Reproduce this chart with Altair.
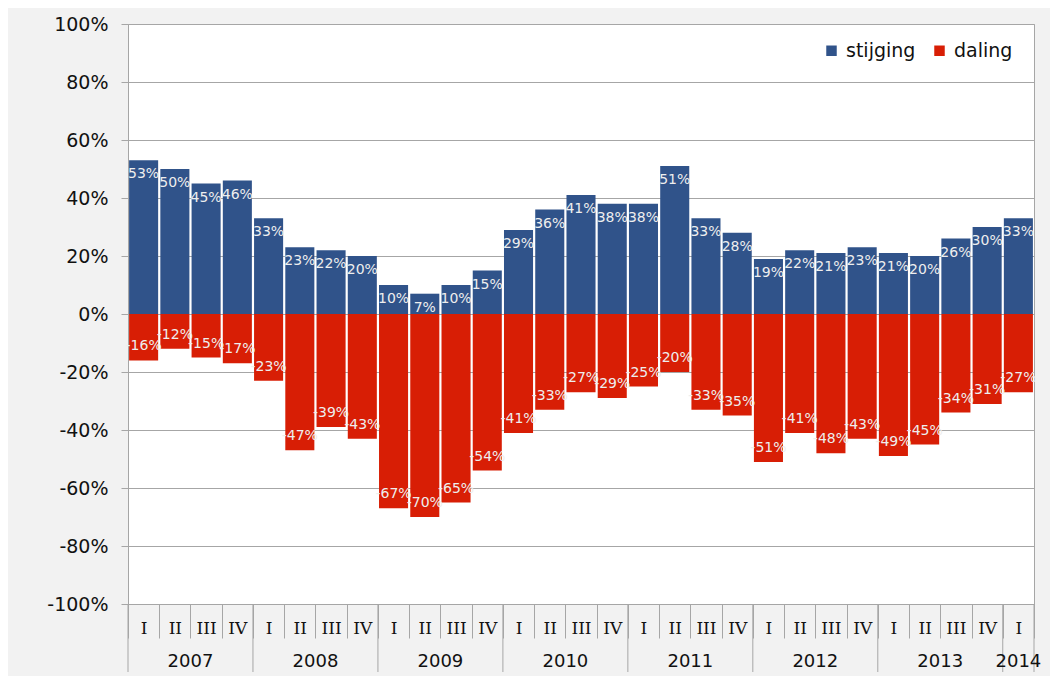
import altair as alt
import pandas as pd

years = [2007] * 4 + [2008] * 4 + [2009] * 4 + [2010] * 4 + [2011] * 4 + [2012] * 4 + [2013] * 4 + [2014]
quarters = ["I", "II", "III", "IV"] * 7 + ["I"]
stijging = [53, 50, 45, 46, 33, 23, 22, 20, 10, 7, 10, 15, 29, 36, 41, 38,
            38, 51, 33, 28, 19, 22, 21, 23, 21, 20, 26, 30, 33]
daling = [16, 12, 15, 17, 23, 47, 39, 43, 67, 70, 65, 54, 41, 33, 27, 29,
          25, 20, 33, 35, 51, 41, 48, 43, 49, 45, 34, 31, 27]
year_names = ["2007", "2008", "2009", "2010", "2011", "2012", "2013", "2014"]
series_names = ["stijging", "daling"]
y_ticks = [-100, -80, -60, -40, -20, 0, 20, 40, 60, 80, 100]

BLUE = "#30538a"
RED = "#d81e05"
GRAY = "#a6a6a6"

keys = [f"{y} {q}" for y, q in zip(years, quarters)]

rows = []
for k, s, d in zip(keys, stijging, daling):
    rows.append({"key": k, "series": "stijging", "value": s, "label": f"{s}%"})
    rows.append({"key": k, "series": "daling", "value": -d, "label": f"-{d}%"})
df = pd.DataFrame(rows)

# year separators: start of each year + end of last
sep_start = pd.DataFrame({"key": [f"{y} I" for y in year_names]})
sep_end = pd.DataFrame({"key": ["2014 I"]})
# year labels
full_years = pd.DataFrame({"key": [f"{y} II" for y in year_names[:-1]], "year": year_names[:-1]})
last_year = pd.DataFrame({"key": ["2014 I"], "year": ["2014"]})

xscale = alt.Scale(domain=keys, paddingInner=0, paddingOuter=0)
xaxis = alt.Axis(
    title=None, labelExpr="split(datum.value, ' ')[1]", labelAngle=0,
    tickBand="extent", tickSize=34, tickColor=GRAY, domainColor=GRAY,
    labelFont="DejaVu Serif", labelFontSize=17, labelColor="#111111",
    labelPadding=-10, labelBaseline="middle", grid=False,
)


def X(bp=None):
    kw = {}
    if bp is not None:
        kw["bandPosition"] = bp
    return alt.X("key:N", sort=keys, scale=xscale, axis=xaxis, **kw)


yscale = alt.Scale(domain=[-100, 100], nice=False, zero=True)
yaxis = alt.Axis(
    title=None, values=y_ticks, labelExpr="datum.value + '%'",
    tickSize=7, tickColor=GRAY, domainColor=GRAY, gridColor=GRAY,
    labelFont="DejaVu Sans", labelFontSize=19, labelColor="#111111",
    labelPadding=13,
)

bars = alt.Chart(df).mark_bar(width=alt.RelativeBandSize(0.93)).encode(
    x=X(),
    y=alt.Y("value:Q", scale=yscale, axis=yaxis),
    color=alt.Color(
        "series:N",
        scale=alt.Scale(domain=series_names, range=[BLUE, RED]),
        legend=alt.Legend(
            orient="none", legendX=694, legendY=17, direction="horizontal",
            title=None, symbolType="square", symbolSize=110, symbolStrokeWidth=0,
            labelFont="DejaVu Sans", labelFontSize=19, labelColor="#111111",
            labelOffset=5, columnPadding=14,
        ),
    ),
)

lab_style = dict(baseline="middle", align="center", font="DejaVu Sans", fontSize=14, color="#eeeeee")
txt_pos = alt.Chart(df).transform_filter(alt.datum.series == "stijging").mark_text(
    dy=14, **lab_style
).encode(x=X(), y=alt.Y("value:Q", scale=yscale), text="label:N")

txt_neg = alt.Chart(df).transform_filter(alt.datum.series == "daling").mark_text(
    dy=-14, **lab_style
).encode(x=X(), y=alt.Y("value:Q", scale=yscale), text="label:N")

sep1 = alt.Chart(sep_start).mark_rule(color=GRAY, strokeWidth=1).encode(
    x=X(0), y=alt.value(580), y2=alt.value(648)
)
sep2 = alt.Chart(sep_end).mark_rule(color=GRAY, strokeWidth=1).encode(
    x=X(1), y=alt.value(580), y2=alt.value(648)
)

ylab_style = dict(baseline="middle", align="center", font="DejaVu Sans", fontSize=18, color="#111111")
ylab1 = alt.Chart(full_years).mark_text(**ylab_style).encode(x=X(1), y=alt.value(638), text="year:N")
ylab2 = alt.Chart(last_year).mark_text(**ylab_style).encode(x=X(0.5), y=alt.value(638), text="year:N")

chart = alt.layer(bars, txt_pos, txt_neg, sep1, sep2, ylab1, ylab2).properties(
    width=906, height=580,
    autosize=alt.AutoSizeParams(type="none"),
    padding={"left": 120, "top": 16, "right": 16, "bottom": 72},
    background="#f2f2f2",
).configure_view(fill="white", stroke=GRAY, strokeWidth=1)

chart.save("out.html", embed_options={"renderer": "svg", "actions": False})
